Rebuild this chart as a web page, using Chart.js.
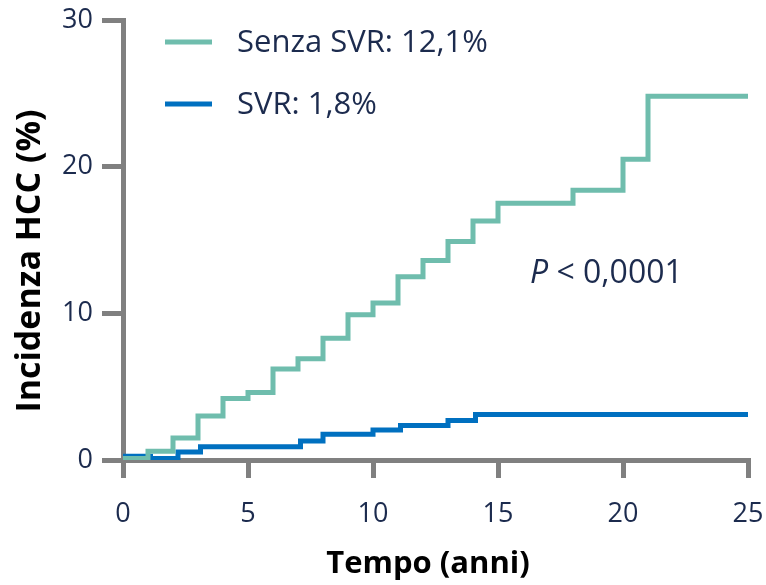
<!DOCTYPE html>
<html>
<head>
<meta charset="utf-8">
<script src="https://cdn.jsdelivr.net/npm/chart.js@4/dist/chart.umd.min.js"></script>
<style>
  html, body { margin: 0; padding: 0; background: #ffffff; }
  #wrap { width: 766px; height: 585px; }
</style>
</head>
<body>
<div id="wrap"><canvas id="c" width="766" height="585"></canvas></div>
<script>
// Cumulative HCC incidence (%) by follow-up time (years), step curves
const noSvrYears = [0, 1, 2, 3, 4, 5, 6, 7, 8, 9, 10, 11, 12, 13, 14, 15, 18, 20, 21, 25];
const noSvrRisk  = [0.1, 0.6, 1.5, 3.0, 4.2, 4.6, 6.2, 6.9, 8.3, 9.9, 10.7, 12.5, 13.6, 14.9, 16.3, 17.5, 18.4, 20.5, 24.8, 24.8];

const svrYears = [0, 1.1, 2.2, 3.1, 7.1, 8, 10, 11.1, 13, 14.1, 25];
const svrRisk  = [0.25, 0.1, 0.55, 0.9, 1.3, 1.75, 2.05, 2.35, 2.7, 3.1, 3.1];

const seriesLabels = ['Senza SVR: 12,1%', 'SVR: 1,8%'];
const xTicks = [0, 5, 10, 15, 20, 25];
const yTicks = [0, 10, 20, 30];
const xTitle = 'Tempo (anni)';
const yTitle = 'Incidenza HCC (%)';
const pValue = '< 0,0001';

const GREEN = '#6fbdad';
const BLUE = '#0070c0';
const GREY = '#808080';
const NAVY = '#1c2b4e';
const FONT = "'Open Sans', sans-serif";

const toPoints = (xs, ys) => xs.map((x, i) => ({ x: x, y: ys[i] }));

// Legend, p-value and axis titles drawn on top of the plot
const overlay = {
  id: 'overlay',
  afterDraw(chart) {
    const ctx = chart.ctx;
    ctx.save();

    // legend entries
    const rows = [42, 104];
    chart.data.datasets.forEach((ds, i) => {
      const y = rows[i];
      ctx.strokeStyle = ds.borderColor;
      ctx.lineWidth = 5;
      ctx.lineCap = 'butt';
      ctx.beginPath();
      ctx.moveTo(165, y);
      ctx.lineTo(212, y);
      ctx.stroke();
      ctx.fillStyle = NAVY;
      ctx.font = '31px ' + FONT;
      ctx.textAlign = 'left';
      ctx.textBaseline = 'middle';
      ctx.fillText(ds.label, 237, y + 1);
    });

    // p-value
    ctx.fillStyle = NAVY;
    ctx.textBaseline = 'middle';
    ctx.textAlign = 'left';
    ctx.font = 'italic 32px ' + FONT;
    ctx.fillText('P', 530, 274);
    const pw = ctx.measureText('P ').width;
    ctx.font = '32px ' + FONT;
    ctx.fillText(pValue, 530 + pw, 274);

    // axis titles
    ctx.fillStyle = '#000000';
    ctx.textAlign = 'center';
    ctx.textBaseline = 'middle';
    ctx.font = 'bold 31px ' + FONT;
    ctx.fillText(xTitle, 428, 564);

    ctx.font = 'bold 34px ' + FONT;
    ctx.translate(30, 261);
    ctx.rotate(-Math.PI / 2);
    ctx.fillText(yTitle, 0, 0);
    ctx.restore();
  }
};

new Chart(document.getElementById('c'), {
  type: 'line',
  data: {
    datasets: [
      {
        label: seriesLabels[0],
        data: toPoints(noSvrYears, noSvrRisk),
        borderColor: GREEN,
        borderWidth: 5,
        stepped: true,
        pointRadius: 0,
        fill: false
      },
      {
        label: seriesLabels[1],
        data: toPoints(svrYears, svrRisk),
        borderColor: BLUE,
        borderWidth: 5,
        stepped: true,
        pointRadius: 0,
        fill: false
      }
    ]
  },
  options: {
    responsive: false,
    animation: false,
    layout: { padding: { top: 20, right: 18, left: 0, bottom: 0 } },
    plugins: { legend: { display: false }, tooltip: { enabled: false } },
    scales: {
      x: {
        type: 'linear',
        min: 0,
        max: 25,
        afterBuildTicks(scale) { scale.ticks = xTicks.map(v => ({ value: v })); },
        afterFit(scale) { scale.height = 125; scale.paddingRight = 0; scale.paddingLeft = 0; },
        ticks: { color: NAVY, font: { family: FONT, size: 27 }, padding: 20, maxRotation: 0 },
        grid: { drawOnChartArea: false, drawTicks: true, tickLength: 18, color: GREY, lineWidth: 5 },
        border: { color: GREY, width: 5 }
      },
      y: {
        min: 0,
        max: 30,
        afterBuildTicks(scale) { scale.ticks = yTicks.map(v => ({ value: v })); },
        afterFit(scale) { scale.width = 123; scale.paddingTop = 0; scale.paddingBottom = 0; },
        ticks: { color: NAVY, font: { family: FONT, size: 27 }, padding: 9 },
        grid: { drawOnChartArea: false, drawTicks: true, tickLength: 21, color: GREY, lineWidth: 5 },
        border: { color: GREY, width: 5 }
      }
    }
  },
  plugins: [overlay]
});
</script>
</body>
</html>
